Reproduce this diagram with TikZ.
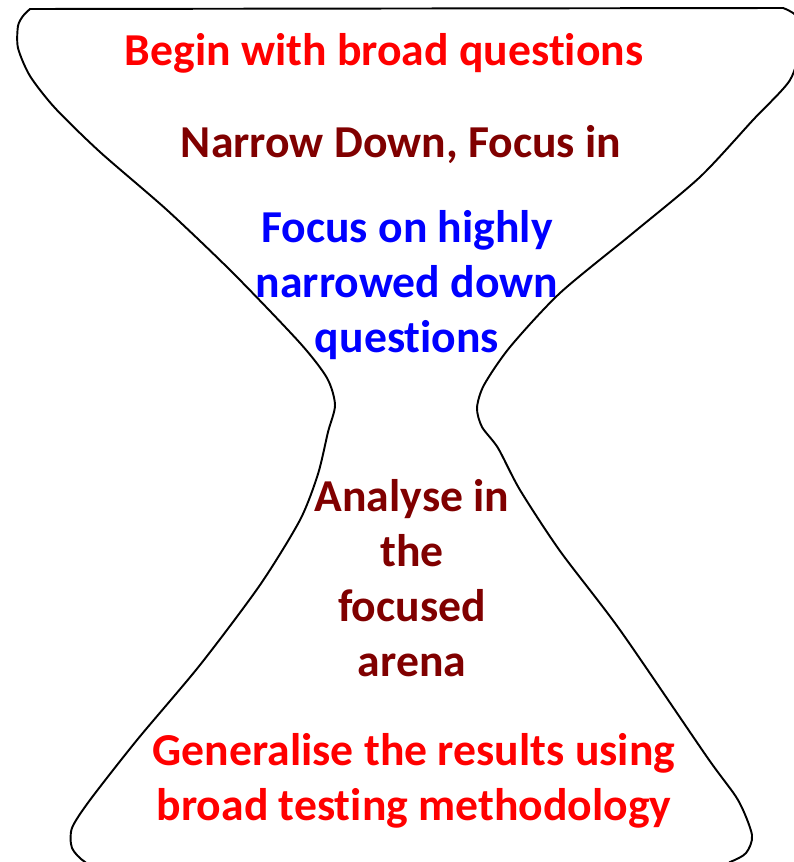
\documentclass[tikz,border=0pt]{standalone}
\usepackage{fontspec}
\setmainfont{Carlito}[Ligatures=NoCommon]
\definecolor{hgmaroon}{RGB}{128,0,0}
\tikzstyle{stagetext} = [font=\fontsize{26}{31.3}\selectfont\bfseries, align=center, inner sep=0pt]
\tikzstyle{glass} = [line width=1.1pt, black]

\begin{document}
\begin{tikzpicture}[x=0.02cm,y=-0.02cm]
        \useasboundingbox (0,0) rectangle (794,862);
        % hourglass outline, cut off at the picture edges
        \begin{scope}
        \clip (0,0) rectangle (794,862);
        \draw[glass] plot[smooth,tension=0.45] coordinates {
            (783,8) (796,16) (801,42) (790,80) (753,120) (700,177) (633,233)
            (560,293) (510,347) (484,385) (477,408) (482,427)
            (498,448) (520,490) (560,551) (620,630)
            (707,757) (738,800) (752,835) (746,853) (730,862) (700,872)
            (110,872) (85,862) (72,848) (72,828) (90,800)
            (137,740) (200,665) (260,585) (300,520) (318,474)
            (328,432) (335,405) (327,378) (300,343)
            (233,273) (167,210) (100,152) (55,108) (30,76)
            (18,48) (18,26) (23,16) (30,9)} -- cycle;
        \end{scope}
        % texts from top to bottom
        \node[stagetext, text=red] (broad) at (384,53) {Begin with broad questions};
        \node[stagetext, text=hgmaroon] (narrow) at (401,145) {Narrow Down, Focus in};
        \node[stagetext, text=blue] (focus) at (407,285) {Focus on highly\\narrowed down\\questions};
        \node[stagetext, text=hgmaroon] (analyse) at (412,578) {Analyse in\\the\\focused\\arena};
        \node[stagetext, text=red] (general) at (414,781) {Generalise the results using\\broad testing methodology};
\end{tikzpicture}
\end{document}
